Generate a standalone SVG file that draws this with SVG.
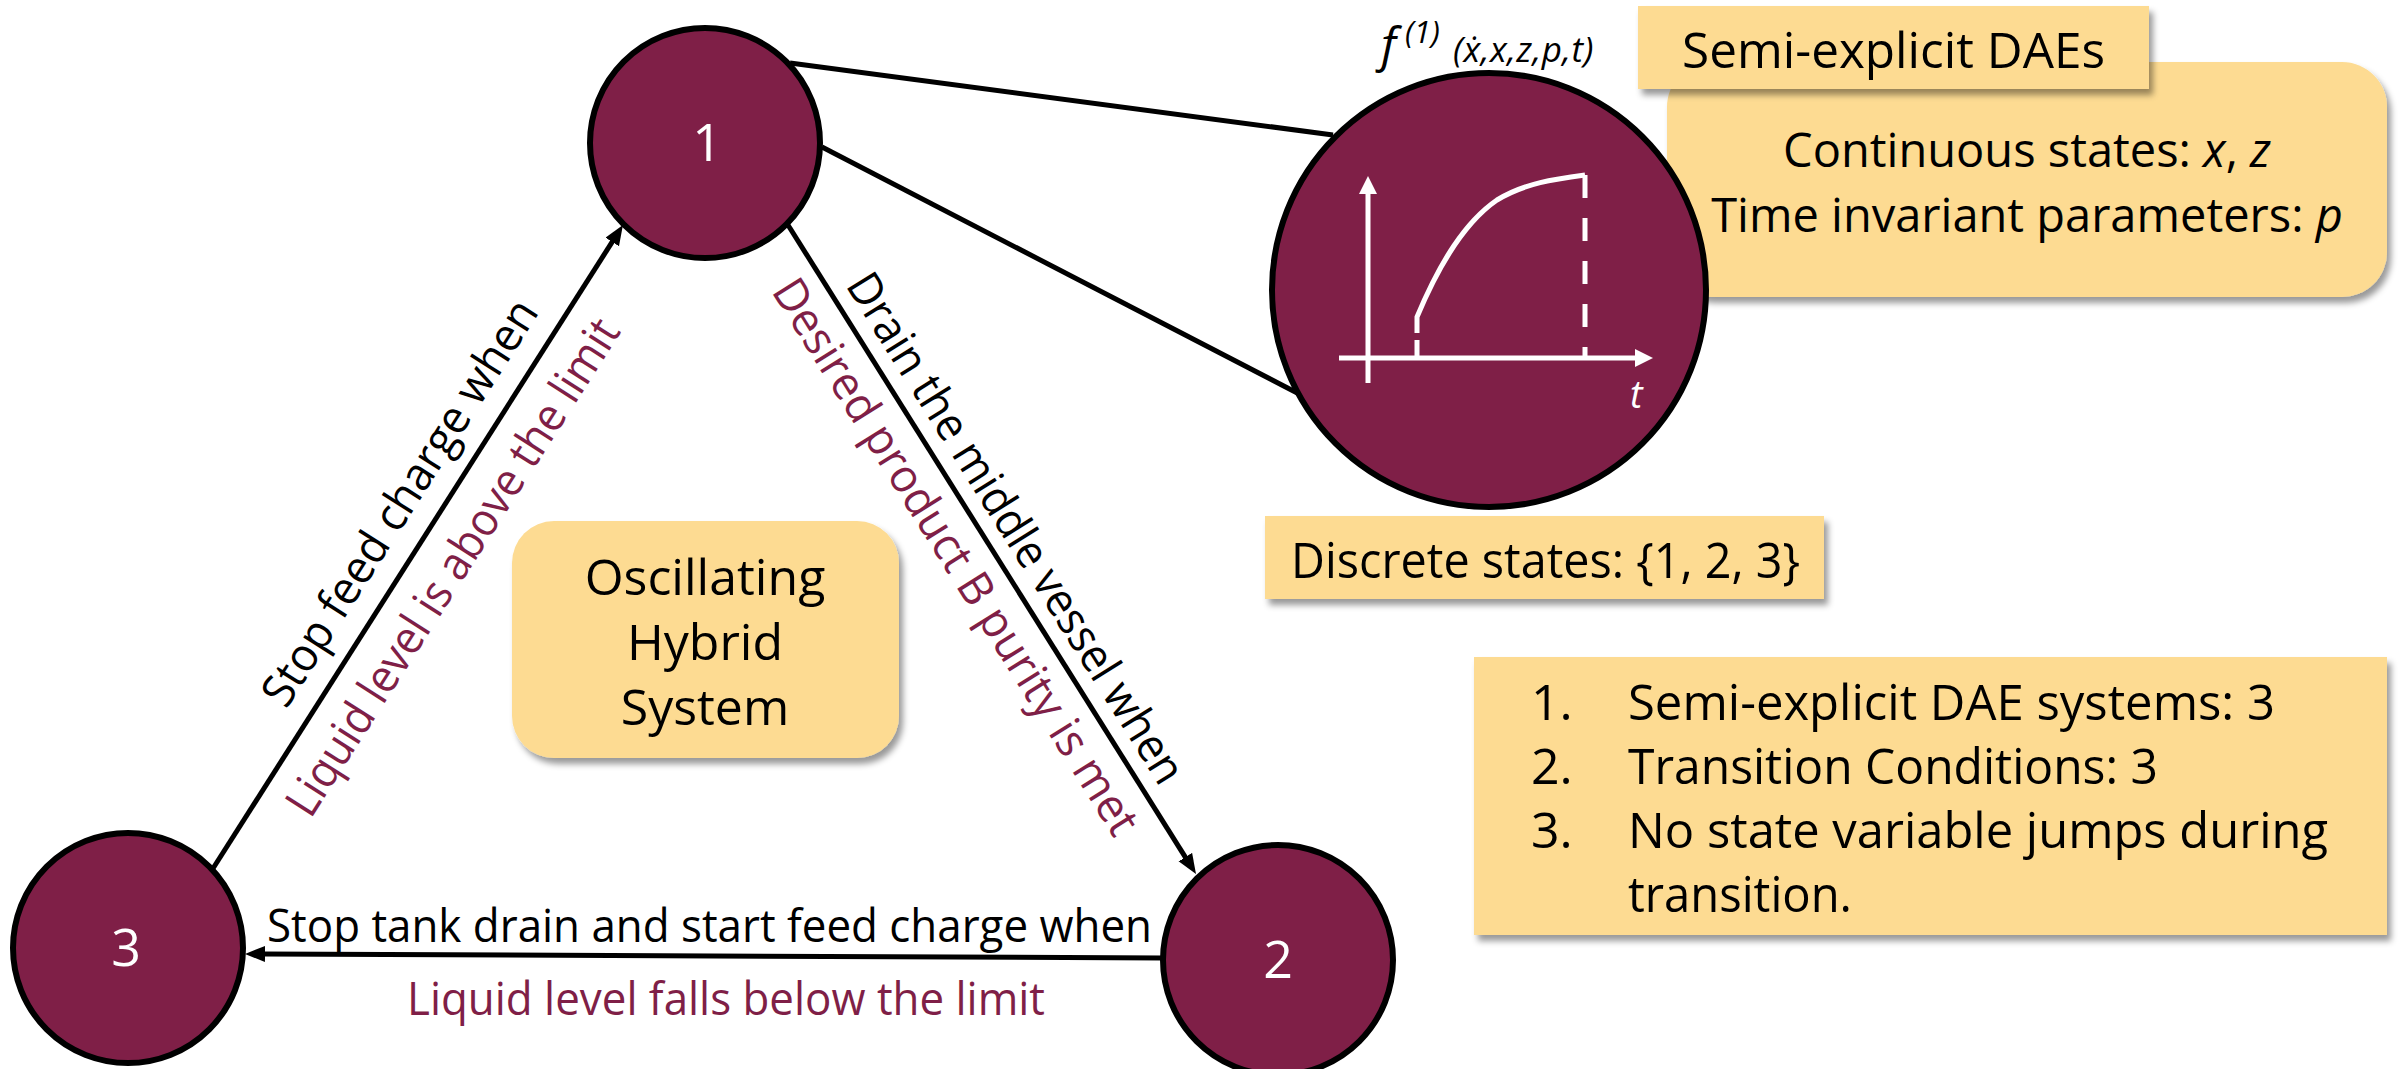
<svg xmlns="http://www.w3.org/2000/svg" width="2408" height="1069" viewBox="0 0 2408 1069">
<style>
  .box { fill: #FDDB92; filter: url(#shadow); }
  .node { fill: #7F1F47; stroke: #000; stroke-width: 6; }
  .nlabel { font-family: "Open Sans", "Noto Sans", sans-serif; font-size: 52px; fill: #fff; text-anchor: middle; }
  .t { font-family: "Open Sans", "Noto Sans", sans-serif; fill: #000; }
  .big { font-size: 50px; }
  .lab { font-size: 46px; text-anchor: middle; }
  .mar { fill: #7F1F47; }
  .edge { stroke: #000; stroke-width: 5; fill: none; }
  .plot { stroke: #fff; stroke-width: 5; fill: none; }
</style>
<defs>
  <filter id="shadow" x="-10%" y="-10%" width="130%" height="140%">
    <feDropShadow dx="4" dy="6" stdDeviation="3" flood-color="#000" flood-opacity="0.4"/>
  </filter>
  <marker id="arr" markerUnits="userSpaceOnUse" markerWidth="22" markerHeight="18" refX="2" refY="8" orient="auto">
    <path d="M0,0 L20,8 L0,16 z" fill="#000"/>
  </marker>
  <marker id="warr" markerUnits="userSpaceOnUse" markerWidth="22" markerHeight="20" refX="2" refY="9" orient="auto">
    <path d="M0,0 L18,9 L0,18 z" fill="#fff"/>
  </marker>
</defs>
<rect width="2408" height="1069" fill="#fff"/>

<g id="connectors">
  <line class="edge" x1="212" y1="870" x2="613.3" y2="240.2" marker-end="url(#arr)"/>
  <line class="edge" x1="788" y1="225" x2="1186.4" y2="858.8" marker-end="url(#arr)"/>
  <line class="edge" x1="1163" y1="958" x2="263" y2="954" marker-end="url(#arr)"/>
  <line class="edge" x1="790" y1="63" x2="1333" y2="135"/>
  <line class="edge" x1="822" y1="147" x2="1305" y2="397"/>
  <text class="t lab" transform="translate(413,511) rotate(-57.5)" textLength="472" lengthAdjust="spacingAndGlyphs">Stop feed charge when</text>
  <text class="t lab mar" transform="translate(466,575.5) rotate(-57.5)" textLength="579" lengthAdjust="spacingAndGlyphs">Liquid level is above the limit</text>
  <text class="t lab" transform="translate(1002.6,536.5) rotate(57.9)" textLength="593" lengthAdjust="spacingAndGlyphs">Drain the middle vessel when</text>
  <text class="t lab mar" transform="translate(942.6,565) rotate(57.9)" textLength="647" lengthAdjust="spacingAndGlyphs">Desired product B purity is met</text>
  <text class="t lab" x="709.5" y="942" textLength="885" lengthAdjust="spacingAndGlyphs">Stop tank drain and start feed charge when</text>
  <text class="t lab mar" x="726" y="1015" textLength="638" lengthAdjust="spacingAndGlyphs">Liquid level falls below the limit</text>
</g>

<g id="box-continuous">
  <rect class="box" x="1667" y="62" width="720" height="235" rx="45"/>
  <text class="t" x="2027" y="167" font-size="47" text-anchor="middle">Continuous states: <tspan font-style="italic">x</tspan>, <tspan font-style="italic">z</tspan></text>
  <text class="t" x="2027" y="232" font-size="47" text-anchor="middle">Time invariant parameters: <tspan font-style="italic">p</tspan></text>
</g>

<g id="box-semi-explicit">
  <rect class="box" x="1638" y="6" width="511" height="83"/>
  <text class="t big" x="1893.5" y="68" text-anchor="middle" textLength="423" lengthAdjust="spacingAndGlyphs">Semi-explicit DAEs</text>
</g>

<g id="node-dae">
  <circle class="node" cx="1489" cy="290" r="217"/>
  <line class="plot" x1="1368" y1="383" x2="1368" y2="192" marker-end="url(#warr)"/>
  <line class="plot" x1="1339" y1="358" x2="1637" y2="358" marker-end="url(#warr)"/>
  <path class="plot" d="M1417,333 L1417,317 C1440,262 1465,222 1497,200 C1525,183 1555,179 1585,175"/>
  <line class="plot" x1="1417" y1="340" x2="1417" y2="358"/>
  <line class="plot" x1="1585" y1="175" x2="1585" y2="358" stroke-dasharray="23 20"/>
  <text class="t" x="1630" y="408" font-size="38" font-style="italic" style="fill:#fff">t</text>
  <text class="t" font-style="italic"><tspan x="1381" y="62" font-size="48">f</tspan><tspan x="1405" y="43" font-size="31">(1)</tspan><tspan x="1453" y="62" font-size="35" letter-spacing="0.5">(ẋ,x,z,p,t)</tspan></text>
</g>

<g id="node-1">
  <circle class="node" cx="705" cy="143" r="115"/>
  <text class="nlabel" x="707" y="161">1</text>
</g>
<g id="node-2">
  <circle class="node" cx="1278" cy="960" r="115"/>
  <text class="nlabel" x="1278" y="978">2</text>
</g>
<g id="node-3">
  <circle class="node" cx="128" cy="948" r="115"/>
  <text class="nlabel" x="126" y="966">3</text>
</g>

<g id="box-oscillating">
  <rect class="box" x="512" y="521" width="387" height="237" rx="42"/>
  <text class="t big" x="705" y="595" text-anchor="middle">Oscillating</text>
  <text class="t big" x="705" y="660" text-anchor="middle">Hybrid</text>
  <text class="t big" x="705" y="725" text-anchor="middle">System</text>
</g>

<g id="box-discrete">
  <rect class="box" x="1265" y="516" width="559" height="83"/>
  <text class="t big" x="1291" y="578" textLength="509" lengthAdjust="spacingAndGlyphs">Discrete states: {1, 2, 3}</text>
</g>

<g id="box-list">
  <rect class="box" x="1474" y="657" width="913" height="278"/>
  <text class="t big" x="1531" y="720">1.</text>
  <text class="t big" x="1628" y="720" textLength="647" lengthAdjust="spacingAndGlyphs">Semi-explicit DAE systems: 3</text>
  <text class="t big" x="1531" y="784">2.</text>
  <text class="t big" x="1628" y="784" textLength="530" lengthAdjust="spacingAndGlyphs">Transition Conditions: 3</text>
  <text class="t big" x="1531" y="848">3.</text>
  <text class="t big" x="1628" y="848" textLength="700" lengthAdjust="spacingAndGlyphs">No state variable jumps during</text>
  <text class="t big" x="1628" y="912" textLength="224" lengthAdjust="spacingAndGlyphs">transition.</text>
</g>
</svg>
